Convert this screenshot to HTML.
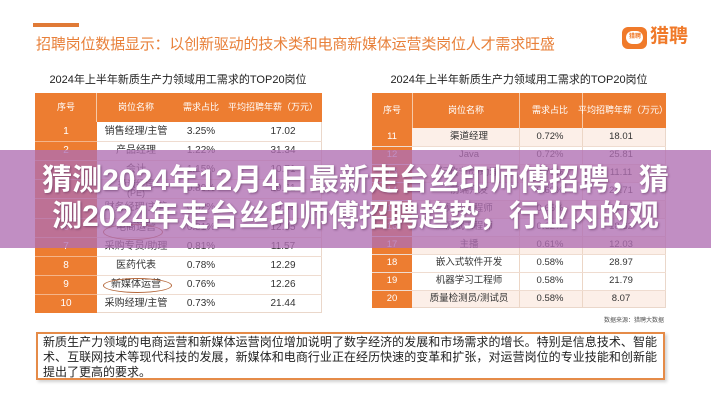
<!DOCTYPE html>
<html><head><meta charset="utf-8">
<style>
*{margin:0;padding:0;box-sizing:border-box}
html,body{width:711px;height:400px;overflow:hidden;background:#fff}
body{position:relative;font-family:"Liberation Sans","Noto Sans CJK SC",sans-serif;color:#333}
.a{position:absolute}
.bar{left:33px;top:23px;width:46px;height:4px;background:#e07a36}
.title{left:36px;top:35px;font-size:15px;line-height:20px;color:#e8803a;letter-spacing:-0.18px;white-space:nowrap}
.logo{left:622px;top:27px;width:25px;height:22px;background:#f07a2a;border-radius:6px}
.logo i{position:absolute;left:4px;top:4px;width:17px;height:13px;background:#fff;border-radius:7px}
.logo b{position:absolute;left:7px;top:6px;font-size:6px;color:#f07a2a;font-weight:bold;line-height:9px}
.logotxt{left:650px;top:25px;font-size:19px;font-weight:bold;color:#f07a2a;line-height:24px}
.sub{top:73px;font-size:11px;line-height:14px;color:#222;white-space:nowrap;width:300px;text-align:center}
.hdr{background:#ed7d31}
.c{position:absolute;text-align:center;white-space:nowrap;transform:translateX(-50%);line-height:12px}
.hc{color:#fff;font-size:9px}
.rc{font-size:10px;color:#333}
.nc{color:#fff;font-size:10px}
.band{left:0;top:150px;width:711px;height:98px;background:rgba(176,110,178,0.78)}
.btxt{left:0;top:163px;width:711px;text-align:center;color:#fff;font-weight:bold;font-size:30px;line-height:36px;white-space:nowrap;text-shadow:1px 1px 2px rgba(60,20,60,0.45)}
.desc{left:36px;top:332px;width:629px;height:48px;border:2px solid #e58b48;background:#fff;box-shadow:2px 2px 3px rgba(0,0,0,0.18);padding:1px 6px 0 5px}
.desc div{font-size:12px;line-height:15px;color:#222;white-space:nowrap}
.desc .j{text-align:justify;text-align-last:justify;white-space:normal;height:15px;overflow:hidden}
.src{left:604px;top:315px;font-size:6px;color:#555;white-space:nowrap}
</style></head><body>

<div class="a bar"></div>
<div class="a title">招聘岗位数据显示：以创新驱动的技术类和电商新媒体运营类岗位人才需求旺盛</div>
<div class="a logo"><i></i><b>猎聘</b></div>
<div class="a logotxt">猎聘</div>

<div class="a sub" style="left:28px">2024年上半年新质生产力领域用工需求的TOP20岗位</div>
<div class="a sub" style="left:369px">2024年上半年新质生产力领域用工需求的TOP20岗位</div>

<!-- LEFT TABLE -->
<div class="a" style="left:35px;top:93px;width:287px;height:220px;border:1px solid #ead7ca;border-top:none;background:#fff"></div>
<div class="a hdr" style="left:35px;top:93px;width:287px;height:29px"></div>
<div class="a" style="left:96px;top:93px;width:1px;height:29px;background:#f6c9a8"></div>
<div class="a" style="left:35px;top:122px;width:62px;height:191px;background:#ed7d31"></div>
<div class="c hc" style="left:66px;top:101px">序号</div>
<div class="c hc" style="left:136px;top:101px">岗位名称</div>
<div class="c hc" style="left:201px;top:101px">需求占比</div>
<div class="c hc" style="left:273px;top:101px">平均招聘年薪（万元）</div>

<div class="a" style="left:97px;top:141px;width:225px;height:1px;background:#efdcd0"></div>
<div class="a" style="left:97px;top:160px;width:225px;height:1px;background:#efdcd0"></div>
<div class="a" style="left:97px;top:179px;width:225px;height:1px;background:#efdcd0"></div>
<div class="a" style="left:97px;top:198px;width:225px;height:1px;background:#efdcd0"></div>
<div class="a" style="left:97px;top:218px;width:225px;height:1px;background:#efdcd0"></div>
<div class="a" style="left:97px;top:237px;width:225px;height:1px;background:#efdcd0"></div>
<div class="a" style="left:97px;top:256px;width:225px;height:1px;background:#efdcd0"></div>
<div class="a" style="left:97px;top:275px;width:225px;height:1px;background:#efdcd0"></div>
<div class="a" style="left:97px;top:294px;width:225px;height:1px;background:#efdcd0"></div>
<div class="a" style="left:35px;top:141px;width:62px;height:1px;background:#f4b58a"></div>
<div class="a" style="left:35px;top:160px;width:62px;height:1px;background:#f4b58a"></div>
<div class="a" style="left:35px;top:179px;width:62px;height:1px;background:#f4b58a"></div>
<div class="a" style="left:35px;top:198px;width:62px;height:1px;background:#f4b58a"></div>
<div class="a" style="left:35px;top:218px;width:62px;height:1px;background:#f4b58a"></div>
<div class="a" style="left:35px;top:237px;width:62px;height:1px;background:#f4b58a"></div>
<div class="a" style="left:35px;top:256px;width:62px;height:1px;background:#f4b58a"></div>
<div class="a" style="left:35px;top:275px;width:62px;height:1px;background:#f4b58a"></div>
<div class="a" style="left:35px;top:294px;width:62px;height:1px;background:#f4b58a"></div>

<div class="c nc" style="left:66px;top:126px">1</div><div class="c rc" style="left:136px;top:126px">销售经理/主管</div><div class="c rc" style="left:201px;top:126px">3.25%</div><div class="c rc" style="left:283px;top:126px">17.02</div>
<div class="c nc" style="left:66px;top:145px">2</div><div class="c rc" style="left:136px;top:145px">产品经理</div><div class="c rc" style="left:201px;top:145px">1.22%</div><div class="c rc" style="left:283px;top:145px">31.34</div>
<div class="c nc" style="left:66px;top:164px">3</div><div class="c rc" style="left:136px;top:164px">会计</div><div class="c rc" style="left:201px;top:164px">1.15%</div><div class="c rc" style="left:283px;top:164px">10.71</div>
<div class="c nc" style="left:66px;top:183px">4</div><div class="c rc" style="left:136px;top:180px;font-size:9px;line-height:9px">投资经理<br>(PE)</div><div class="c rc" style="left:201px;top:183px">0.89%</div><div class="c rc" style="left:283px;top:183px">29.61</div>
<div class="c nc" style="left:66px;top:202px">5</div><div class="c rc" style="left:136px;top:202px">财务经理/主管</div><div class="c rc" style="left:201px;top:202px">0.82%</div><div class="c rc" style="left:283px;top:202px">20.38</div>
<div class="c nc" style="left:66px;top:222px">6</div><div class="c rc" style="left:136px;top:222px">电商运营</div><div class="c rc" style="left:201px;top:222px">0.81%</div><div class="c rc" style="left:283px;top:222px">12.05</div>
<div class="c nc" style="left:66px;top:241px">7</div><div class="c rc" style="left:136px;top:241px">采购专员/助理</div><div class="c rc" style="left:201px;top:241px">0.81%</div><div class="c rc" style="left:283px;top:241px">11.57</div>
<div class="c nc" style="left:66px;top:260px">8</div><div class="c rc" style="left:136px;top:260px">医药代表</div><div class="c rc" style="left:201px;top:260px">0.78%</div><div class="c rc" style="left:283px;top:260px">12.29</div>
<div class="c nc" style="left:66px;top:279px">9</div><div class="c rc" style="left:136px;top:279px">新媒体运营</div><div class="c rc" style="left:201px;top:279px">0.76%</div><div class="c rc" style="left:283px;top:279px">12.26</div>
<div class="c nc" style="left:66px;top:298px">10</div><div class="c rc" style="left:136px;top:298px">采购经理/主管</div><div class="c rc" style="left:201px;top:298px">0.73%</div><div class="c rc" style="left:283px;top:298px">21.44</div>

<!-- ovals -->
<div class="a" style="left:103px;top:224px;width:60px;height:16px;border:1.5px solid #b5673a;border-radius:50%"></div>
<div class="a" style="left:103px;top:278px;width:69px;height:15px;border:1.5px solid #b5673a;border-radius:50%"></div>

<!-- RIGHT TABLE -->
<div class="a" style="left:372px;top:93px;width:294px;height:215px;border:1px solid #ead7ca;border-top:none;background:#fff"></div>
<div class="a hdr" style="left:372px;top:93px;width:294px;height:35px"></div>
<div class="a" style="left:412px;top:93px;width:1px;height:35px;background:#f6c9a8"></div>
<div class="a" style="left:519px;top:93px;width:1px;height:35px;background:#f6c9a8"></div>
<div class="a" style="left:582px;top:93px;width:1px;height:35px;background:#f6c9a8"></div>
<div class="c hc" style="left:392px;top:104px">序号</div>
<div class="c hc" style="left:466px;top:104px">岗位名称</div>
<div class="c hc" style="left:550px;top:104px">需求占比</div>
<div class="c hc" style="left:623px;top:104px">平均招聘年薪（万元）</div>

<div class="a" style="left:412px;top:128px;width:253px;height:18px;background:#fcefe8"></div>
<div class="a" style="left:412px;top:164px;width:253px;height:18px;background:#fcefe8"></div>
<div class="a" style="left:412px;top:200px;width:253px;height:18px;background:#fcefe8"></div>
<div class="a" style="left:412px;top:236px;width:253px;height:18px;background:#fcefe8"></div>
<div class="a" style="left:412px;top:290px;width:253px;height:17px;background:#fcefe8"></div>
<div class="a" style="left:372px;top:128px;width:40px;height:180px;background:#ed7d31"></div>
<div class="a" style="left:519px;top:128px;width:1px;height:180px;background:#ecd6c6"></div>
<div class="a" style="left:582px;top:128px;width:1px;height:180px;background:#ecd6c6"></div>
<div class="a" style="left:372px;top:146px;width:294px;height:1px;background:#efdcd0"></div>
<div class="a" style="left:372px;top:164px;width:294px;height:1px;background:#efdcd0"></div>
<div class="a" style="left:372px;top:182px;width:294px;height:1px;background:#efdcd0"></div>
<div class="a" style="left:372px;top:200px;width:294px;height:1px;background:#efdcd0"></div>
<div class="a" style="left:372px;top:218px;width:294px;height:1px;background:#efdcd0"></div>
<div class="a" style="left:372px;top:236px;width:294px;height:1px;background:#efdcd0"></div>
<div class="a" style="left:372px;top:254px;width:294px;height:1px;background:#efdcd0"></div>
<div class="a" style="left:372px;top:272px;width:294px;height:1px;background:#efdcd0"></div>
<div class="a" style="left:372px;top:290px;width:294px;height:1px;background:#efdcd0"></div>

<div class="c nc" style="left:392px;top:131px;font-size:9.5px">11</div><div class="c rc" style="left:469px;top:131px;font-size:9.5px">渠道经理</div><div class="c rc" style="left:550px;top:131px;font-size:9.5px">0.72%</div><div class="c rc" style="left:621px;top:131px;font-size:9.5px">18.01</div>
<div class="c nc" style="left:392px;top:149px;font-size:9.5px">12</div><div class="c rc" style="left:469px;top:149px;font-size:9.5px">Java</div><div class="c rc" style="left:550px;top:149px;font-size:9.5px">0.72%</div><div class="c rc" style="left:621px;top:149px;font-size:9.5px">25.81</div>
<div class="c nc" style="left:392px;top:167px;font-size:9.5px">13</div><div class="c rc" style="left:469px;top:167px;font-size:9.5px">行政专员/助理</div><div class="c rc" style="left:550px;top:167px;font-size:9.5px">0.70%</div><div class="c rc" style="left:621px;top:167px;font-size:9.5px">11.11</div>
<div class="c nc" style="left:392px;top:185px;font-size:9.5px">14</div><div class="c rc" style="left:469px;top:185px;font-size:9.5px">前端开发</div><div class="c rc" style="left:550px;top:185px;font-size:9.5px">0.69%</div><div class="c rc" style="left:621px;top:185px;font-size:9.5px">24.71</div>
<div class="c nc" style="left:392px;top:203px;font-size:9.5px">15</div><div class="c rc" style="left:469px;top:203px;font-size:9.5px">算法工程师</div><div class="c rc" style="left:550px;top:203px;font-size:9.5px">0.65%</div><div class="c rc" style="left:621px;top:203px;font-size:9.5px">24.08</div>
<div class="c nc" style="left:392px;top:221px;font-size:9.5px">16</div><div class="c rc" style="left:469px;top:221px;font-size:9.5px">测试工程师</div><div class="c rc" style="left:550px;top:221px;font-size:9.5px">0.62%</div><div class="c rc" style="left:621px;top:221px;font-size:9.5px">18.62</div>
<div class="c nc" style="left:392px;top:239px;font-size:9.5px">17</div><div class="c rc" style="left:469px;top:239px;font-size:9.5px">主播</div><div class="c rc" style="left:550px;top:239px;font-size:9.5px">0.61%</div><div class="c rc" style="left:621px;top:239px;font-size:9.5px">12.03</div>
<div class="c nc" style="left:392px;top:257px;font-size:9.5px">18</div><div class="c rc" style="left:469px;top:257px;font-size:9.5px">嵌入式软件开发</div><div class="c rc" style="left:550px;top:257px;font-size:9.5px">0.58%</div><div class="c rc" style="left:621px;top:257px;font-size:9.5px">28.97</div>
<div class="c nc" style="left:392px;top:275px;font-size:9.5px">19</div><div class="c rc" style="left:469px;top:275px;font-size:9.5px">机器学习工程师</div><div class="c rc" style="left:550px;top:275px;font-size:9.5px">0.58%</div><div class="c rc" style="left:621px;top:275px;font-size:9.5px">21.79</div>
<div class="c nc" style="left:392px;top:293px;font-size:9.5px">20</div><div class="c rc" style="left:469px;top:293px;font-size:9.5px">质量检测员/测试员</div><div class="c rc" style="left:550px;top:293px;font-size:9.5px">0.58%</div><div class="c rc" style="left:621px;top:293px;font-size:9.5px">8.07</div>

<div class="a src">数据来源：猎聘大数据</div>

<!-- description -->
<div class="a desc">
<div class="j">新质生产力领域的电商运营和新媒体运营岗位增加说明了数字经济的发展和市场需求的增长。特别是信息技术、智能技</div>
<div class="j">术、互联网技术等现代科技的发展，新媒体和电商行业正在经历快速的变革和扩张，对运营岗位的专业技能和创新能力</div>
<div>提出了更高的要求。</div>
</div>

<!-- overlay band -->
<div class="a band"></div>
<div class="a btxt">猜测2024年12月4日最新走台丝印师傅招聘，猜<br>测2024年走台丝印师傅招聘趋势，行业内的观</div>

</body></html>
